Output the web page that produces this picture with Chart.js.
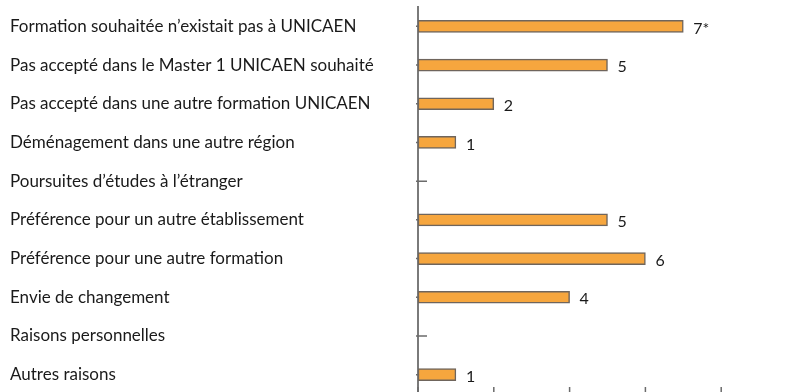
<!DOCTYPE html>
<html>
<head>
<meta charset="utf-8">
<script src="https://cdn.jsdelivr.net/npm/chart.js@4/dist/chart.umd.min.js"></script>
<style>
html, body { margin: 0; padding: 0; background: #fff; overflow: hidden; }
#wrap { width: 797px; height: 394px; }
</style>
</head>
<body>
<div id="wrap"><canvas id="chart"></canvas></div>
<script>
// Raisons du départ
var raisons = [
    "Formation souhaitée n\u2019existait pas à UNICAEN",
    "Pas accepté dans le Master 1 UNICAEN souhaité",
    "Pas accepté dans une autre formation UNICAEN",
    "Déménagement dans une autre région",
    "Poursuites d\u2019études à l\u2019étranger",
    "Préférence pour un autre établissement",
    "Préférence pour une autre formation",
    "Envie de changement",
    "Raisons personnelles",
    "Autres raisons"
];
var effectifs = [7, 5, 2, 1, 0, 5, 6, 4, 0, 1];
var suffixes = ["*", "", "", "", "", "", "", "", "", ""];
var echelle = [0, 2, 4, 6, 8, 10];

var police = "Lato, 'Open Sans', sans-serif";

// Petits traits de graduation (croisés) sur les deux axes
var graduations = {
    id: "graduations",
    beforeDatasetsDraw(chart) {
        var ctx = chart.ctx;
        var x = chart.scales.x;
        var y = chart.scales.y;
        var area = chart.chartArea;
        ctx.save();
        ctx.strokeStyle = "#6b6b6b";
        ctx.lineWidth = 1.5;
        ctx.beginPath();
        y.ticks.forEach((t, i) => {
            var py = y.getPixelForTick(i);
            ctx.moveTo(area.left - 2, py);
            ctx.lineTo(area.left + 9, py);
        });
        echelle.forEach(v => {
            var px = x.getPixelForValue(v);
            ctx.moveTo(px, area.bottom - 7);
            ctx.lineTo(px, area.bottom);
        });
        ctx.stroke();
        ctx.restore();
    },
    afterDatasetsDraw(chart) {
        // valeurs à droite des barres
        var ctx = chart.ctx;
        var meta = chart.getDatasetMeta(0);
        ctx.save();
        ctx.font = "16px " + police;
        ctx.fillStyle = "#1a1a1a";
        ctx.textBaseline = "middle";
        ctx.textAlign = "left";
        meta.data.forEach((bar, i) => {
            if (effectifs[i] > 0) {
                ctx.fillText(effectifs[i] + suffixes[i], bar.x + 10, bar.y + 2);
            }
        });
        ctx.restore();
    }
};

new Chart(document.getElementById("chart"), {
    type: "bar",
    data: {
        labels: raisons,
        datasets: [{
            data: effectifs,
            backgroundColor: "#f6a63e",
            borderColor: "#6f655c",
            borderWidth: 1.5,
            borderSkipped: false,
            barThickness: 12
        }]
    },
    options: {
        indexAxis: "y",
        responsive: true,
        maintainAspectRatio: false,
        animation: false,
        layout: { padding: { left: 10, right: 0, top: 7, bottom: 0 } },
        plugins: {
            legend: { display: false },
            tooltip: { enabled: false }
        },
        scales: {
            x: {
                display: false,
                min: 0,
                max: 10,
                ticks: { stepSize: 2 }
            },
            y: {
                afterFit: function (scale) {
                    scale.width = 408;
                    scale.paddingTop = 0;
                    scale.paddingBottom = 0;
                },
                ticks: {
                    crossAlign: "far",
                    color: "#1a1a1a",
                    font: { family: police, size: 17 }
                },
                grid: { display: false },
                border: { display: true, color: "#7a7a7a", width: 2 }
            }
        }
    },
    plugins: [graduations]
});
</script>
</body>
</html>
